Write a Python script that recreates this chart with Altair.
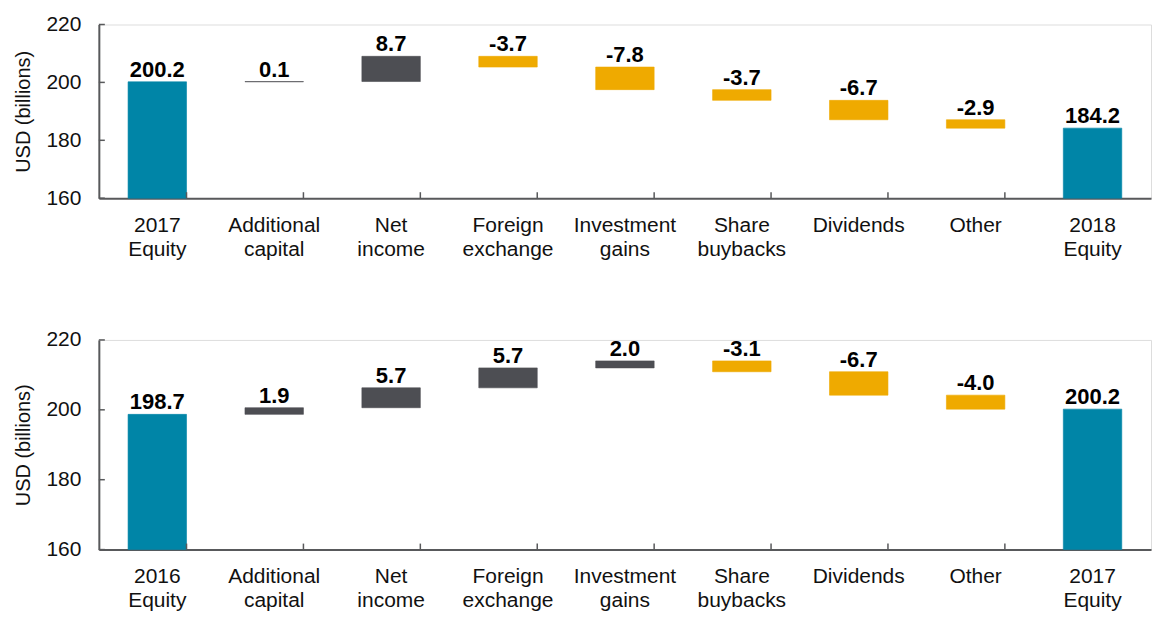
import altair as alt
import pandas as pd

# ---- data ----
cats_top = ["2017|Equity", "Additional|capital", "Net|income", "Foreign|exchange",
            "Investment|gains", "Share|buybacks", "Dividends", "Other", "2018|Equity"]
start_top = 200.2
deltas_top = [0.1, 8.7, -3.7, -7.8, -3.7, -6.7, -2.9]
end_top = 184.2

cats_bot = ["2016|Equity", "Additional|capital", "Net|income", "Foreign|exchange",
            "Investment|gains", "Share|buybacks", "Dividends", "Other", "2017|Equity"]
start_bot = 198.7
deltas_bot = [1.9, 5.7, 5.7, 2.0, -3.1, -6.7, -4.0]
end_bot = 200.2

y_ticks = [160, 180, 200, 220]

TEAL = "#0085A7"
GREY = "#4D4E53"
GOLD = "#EFAA00"
AXIS = "#58595B"
FONT = "Liberation Sans"

W = 1054


def build_table(cats, start, deltas, end):
    rows = []
    rows.append(dict(cat=cats[0], lo=160, hi=start, top=start, label=f"{start:.1f}", kind="total"))
    level = start
    for c, d in zip(cats[1:-1], deltas):
        a, b = level, level + d
        rows.append(dict(cat=c, lo=min(a, b), hi=max(a, b), top=max(a, b),
                         label=f"{d:.1f}", kind="up" if d >= 0 else "down"))
        level = b
    rows.append(dict(cat=cats[-1], lo=160, hi=end, top=end, label=f"{end:.1f}", kind="total"))
    return pd.DataFrame(rows)


def panel(cats, start, deltas, end, H):
    df = build_table(cats, start, deltas, end)
    xs = alt.X("cat:N", sort=cats,
               scale=alt.Scale(paddingInner=0.5, paddingOuter=0.25),
               axis=alt.Axis(title=None, labelExpr="split(datum.label, '|')",
                             labelAngle=0, labelFontSize=21, labelLineHeight=24,
                             labelFont=FONT, labelColor="#111",
                             labelPadding=16, ticks=False, domainColor=AXIS,
                             domainWidth=2, labelBaseline="top"))
    yscale = alt.Scale(domain=[160, 220], nice=False)
    yax = alt.Axis(title="USD (billions)", values=y_ticks, grid=False, ticks=False,
                   labelFontSize=21, labelFont=FONT, labelColor="#111",
                   labelPadding=18, titleFontSize=20, titleFont=FONT,
                   titleFontWeight="normal", titleColor="#111", titlePadding=12,
                   domainColor=AXIS, domainWidth=2)
    cscale = alt.Scale(domain=["total", "up", "down"], range=[TEAL, GREY, GOLD])
    base = alt.Chart(df)
    bars = base.mark_bar().encode(
        x=xs,
        y=alt.Y("lo:Q", scale=yscale, axis=yax),
        y2="hi:Q",
        color=alt.Color("kind:N", scale=cscale, legend=None),
        stroke=alt.Color("kind:N", scale=cscale, legend=None),
        strokeWidth=alt.value(0.6),
    )
    text = base.mark_text(fontWeight="bold", fontSize=22, font=FONT,
                          baseline="alphabetic", dy=-5, color="#000").encode(
        x=alt.X("cat:N", sort=cats),
        y=alt.Y("top:Q", scale=yscale),
        text="label:N",
    )
    xt = alt.Chart(pd.DataFrame({"cat": cats[1:]})).mark_rule(color=AXIS, strokeWidth=1.5).encode(
        x=alt.X("cat:N", sort=cats),
        xOffset=alt.value(-W / 18),
        y=alt.value(H - 6), y2=alt.value(H),
    )
    yt = alt.Chart(pd.DataFrame({"v": y_ticks})).mark_rule(color=AXIS, strokeWidth=1.5).encode(
        y=alt.Y("v:Q", scale=yscale),
        x=alt.value(0), x2=alt.value(6),
    )
    return alt.layer(bars, text, xt, yt).properties(width=W, height=H)


top = panel(cats_top, start_top, deltas_top, end_top, 174)
bot = panel(cats_bot, start_bot, deltas_bot, end_bot, 210)

chart = alt.vconcat(top, bot, spacing=68).properties(
    padding={"left": 5, "top": 4, "right": 0, "bottom": 0}
).configure_view(stroke=None).configure(background="white")

chart.save("out.html", embed_options={"renderer": "svg", "actions": False})
